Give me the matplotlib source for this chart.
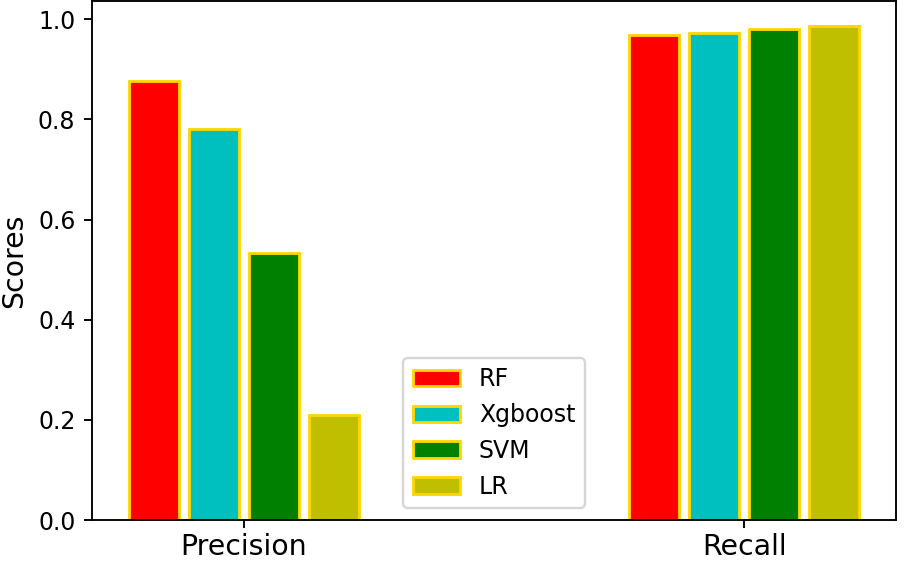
import matplotlib
matplotlib.use('Agg')
import matplotlib.pyplot as plt
import numpy as np

metrics = ['Precision', 'Recall']
models = ['RF', 'Xgboost', 'SVM', 'LR']
colors = ['r', 'c', 'g', 'y']
rf = [0.877, 0.968]
xgb = [0.780, 0.972]
svm = [0.533, 0.980]
lr = [0.210, 0.987]
scores = [rf, xgb, svm, lr]

fig = plt.figure(figsize=(904 / 170, 564 / 170), dpi=170)
ax = fig.add_axes([92 / 904, 44 / 564, 804 / 904, 519 / 564])

x = np.arange(len(metrics))
offsets = [-0.18, -0.06, 0.06, 0.18]
for vals, name, col, off in zip(scores, models, colors, offsets):
    ax.bar(x + off, vals, width=0.1, color=col, edgecolor='gold',
           linewidth=1.2, label=name)

ax.set_xticks(x)
ax.set_xticklabels(metrics, fontsize=12)
ax.tick_params(axis='x', pad=2)
ax.set_ylabel('Scores', fontsize=12)
ax.legend(loc='lower center')

fig.savefig('out.png', dpi=170)
